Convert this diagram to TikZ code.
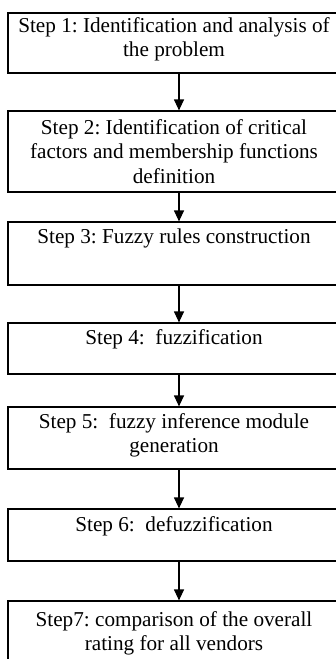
\documentclass[tikz,border=0pt]{standalone}
\usepackage{fontspec}
\setmainfont{Liberation Serif}
\usetikzlibrary{arrows.meta}
\frenchspacing
\tikzset{
  stepbox/.style={draw=black, line width=1.2pt, rectangle, minimum width=332pt, inner sep=0pt, fill=none},
  steptext/.style={anchor=north, inner sep=0pt, align=center, font=\fontsize{21.2}{24.5}\selectfont\frenchspacing},
  flow/.style={draw=black, line width=1.2pt, -{Triangle[width=10pt,length=11pt]}}
}
\newcommand{\tstrut}{\rule{0pt}{16pt}}
\begin{document}
\begin{tikzpicture}[x=1pt,y=-1pt]
\useasboundingbox (0,0) rectangle (336,659);
\clip (0,0) rectangle (336,659);
\fill[white] (0,0) rectangle (336,659);
% boxes
\node[stepbox, minimum height=60pt] (b1) at (174,43) {};
\node[stepbox, minimum height=81pt] (b2) at (174,151.5) {};
\node[stepbox, minimum height=63pt] (b3) at (174,253.5) {};
\node[stepbox, minimum height=51pt] (b4) at (174,348.5) {};
\node[stepbox, minimum height=62pt] (b5) at (174,438) {};
\node[stepbox, minimum height=52pt] (b6) at (174,535) {};
\node[stepbox, minimum height=99pt] (b7) at (174,650.5) {};
% texts
\node[steptext] (t1) at (174,16) {\tstrut Step 1: Identification and analysis of\\the problem};
\node[steptext] (t2) at (174,118) {\tstrut Step 2: Identification of critical\\factors and membership functions\\definition};
\node[steptext] (t3) at (174,227) {\tstrut Step 3: Fuzzy rules construction};
\node[steptext] (t4) at (174,328) {\tstrut Step 4: \ fuzzification};
\node[steptext] (t5) at (174,412) {\tstrut Step 5: \ fuzzy inference module\\generation};
\node[steptext] (t6) at (174,515) {\tstrut Step 6: \ defuzzification};
\node[steptext] (t7) at (174,610) {\tstrut Step7: comparison of the overall\\rating for all vendors};
% arrows
\draw[flow] ([xshift=5pt]b1.south) -- ([xshift=5pt]b2.north);
\draw[flow] ([xshift=5pt]b2.south) -- ([xshift=5pt]b3.north);
\draw[flow] ([xshift=5pt]b3.south) -- ([xshift=5pt]b4.north);
\draw[flow] ([xshift=5pt]b4.south) -- ([xshift=5pt]b5.north);
\draw[flow] ([xshift=5pt]b5.south) -- ([xshift=5pt]b6.north);
\draw[flow] ([xshift=5pt]b6.south) -- ([xshift=5pt]b7.north);
\end{tikzpicture}
\end{document}
